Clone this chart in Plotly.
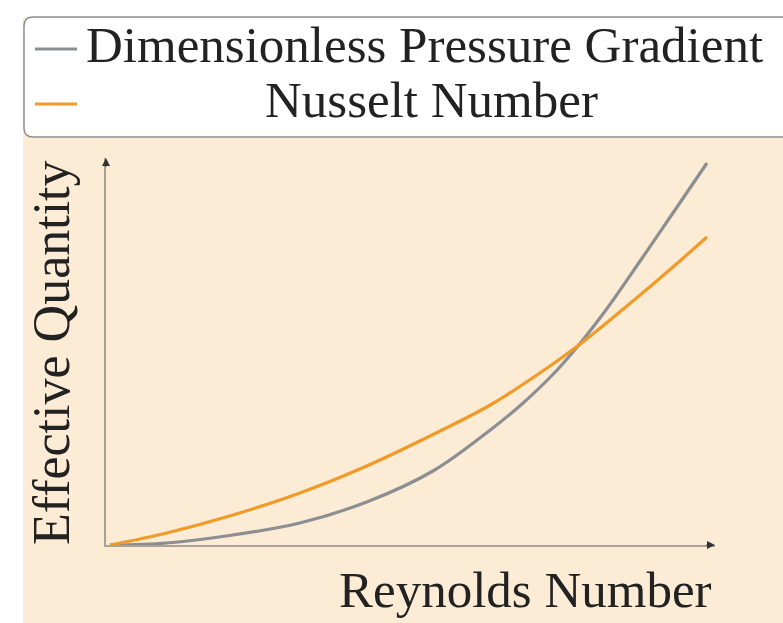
import plotly.graph_objects as go

# Data (x: normalised Reynolds number, y: effective quantity)
reynolds_pg = [0.0, 0.095, 0.206, 0.318, 0.430, 0.541, 0.637, 0.692, 0.749, 0.792, 0.832, 0.888, 0.943, 1.0]
pressure_gradient = [0.0, 0.02, 0.10, 0.22, 0.43, 0.74, 1.15, 1.42, 1.75, 2.05, 2.36, 2.84, 3.32, 3.82]
reynolds_nu = [0.0, 0.095, 0.206, 0.318, 0.430, 0.553, 0.637, 0.720, 0.792, 0.888, 0.943, 1.0]
nusselt = [0.0, 0.12, 0.30, 0.52, 0.79, 1.14, 1.40, 1.72, 2.03, 2.50, 2.78, 3.08]

series_names = ["Dimensionless Pressure Gradient", "Nusselt Number"]
series_colors = ["#8C8F92", "#F09A28"]
x_title = "Reynolds Number"
y_title = "Effective Quantity"

# page margin is removed below, so screen pixels == figure pixels
OFF = 0
W, H = 783, 623
# plot area in screen pixels
SX0, SX1, SY0, SY1 = 106, 715, 158, 545
L, R, T, B = SX0 - OFF, W - (SX1 - OFF), SY0 - OFF, H - (SY1 - OFF)
pw, ph = W - L - R, H - T - B
FONT = "Liberation Serif"
PEACH = "#FCEBD5"
TEXT = "#222222"


def px(sx):
    """screen x pixel -> paper x"""
    return (sx - OFF - L) / pw


def py(sy):
    """screen y pixel -> paper y"""
    return (H - B - (sy - OFF)) / ph


fig = go.Figure()
for name, xv, yv, col in zip(series_names, [reynolds_pg, reynolds_nu],
                             [pressure_gradient, nusselt], series_colors):
    fig.add_trace(go.Scatter(x=xv, y=yv, mode="lines", name=name, showlegend=False,
                             line=dict(color=col, width=3.2, shape="spline", smoothing=1)))

x0 = -4 / 597
x1 = x0 + pw / 597
y1 = ph / 100

fig.update_layout(
    width=W, height=H,
    margin=dict(l=L, r=R, t=T, b=B, autoexpand=False),
    paper_bgcolor="white",
    plot_bgcolor=PEACH,
    font=dict(family=FONT, color=TEXT, size=50),
    showlegend=False,
    xaxis=dict(range=[x0, x1], showgrid=False, zeroline=False, showticklabels=False,
               ticks="", showline=True, linecolor="#A9A195", linewidth=2),
    yaxis=dict(range=[0, y1], showgrid=False, zeroline=False, showticklabels=False,
               ticks="", showline=True, linecolor="#A9A195", linewidth=2),
)

# peach background panel
fig.add_shape(type="rect", xref="paper", yref="paper", layer="below",
              x0=px(23), x1=px(810), y0=py(640), y1=py(17),
              fillcolor=PEACH, line=dict(width=0))

# legend box (rounded left corners, runs off the right edge)
lx0, lx1, ly0, ly1, r = 24, 810, 17, 137, 9
path = (f"M {px(lx0 + r)},{py(ly0)} L {px(lx1)},{py(ly0)} L {px(lx1)},{py(ly1)} "
        f"L {px(lx0 + r)},{py(ly1)} Q {px(lx0)},{py(ly1)} {px(lx0)},{py(ly1 - r)} "
        f"L {px(lx0)},{py(ly0 + r)} Q {px(lx0)},{py(ly0)} {px(lx0 + r)},{py(ly0)} Z")
fig.add_shape(type="path", path=path, xref="paper", yref="paper", layer="above",
              fillcolor="white", line=dict(color="#8E8E8E", width=1.5))
for sy, col in zip([49, 104], series_colors):
    fig.add_shape(type="line", xref="paper", yref="paper", layer="above",
                  x0=px(35), x1=px(77), y0=py(sy), y1=py(sy),
                  line=dict(color=col, width=3))
fig.add_annotation(x=px(84), y=py(45), xref="paper", yref="paper", xanchor="left",
                   yanchor="middle", showarrow=False, text=series_names[0],
                   font=dict(family=FONT, size=51, color=TEXT))
fig.add_annotation(x=px(431), y=py(100), xref="paper", yref="paper", xanchor="center",
                   yanchor="middle", showarrow=False, text=series_names[1],
                   font=dict(family=FONT, size=51, color=TEXT))

# arrowheads at axis ends
fig.add_annotation(x=x1, y=0, ax=-10, ay=0, xref="x", yref="y", showarrow=True,
                   arrowhead=2, arrowsize=1, arrowwidth=1.6, arrowcolor="#333333", text="")
fig.add_annotation(x=x0, y=y1, ax=0, ay=10, xref="x", yref="y", showarrow=True,
                   arrowhead=2, arrowsize=1, arrowwidth=1.6, arrowcolor="#333333", text="")

# axis titles
fig.add_annotation(x=px(714), y=py(590), xref="paper", yref="paper",
                   xanchor="right", yanchor="middle", showarrow=False, text=x_title,
                   font=dict(family=FONT, size=51, color=TEXT))
fig.add_annotation(x=px(51), y=py(353), xref="paper", yref="paper", textangle=-90,
                   xanchor="center", yanchor="middle", showarrow=False, text=y_title,
                   font=dict(family=FONT, size=52, color=TEXT))

fig.write_html("out.html", config={"displayModeBar": False},
               post_script="document.body.style.margin='0px';"
                           "document.documentElement.style.overflow='hidden';"
                           "document.body.style.overflow='hidden';")
